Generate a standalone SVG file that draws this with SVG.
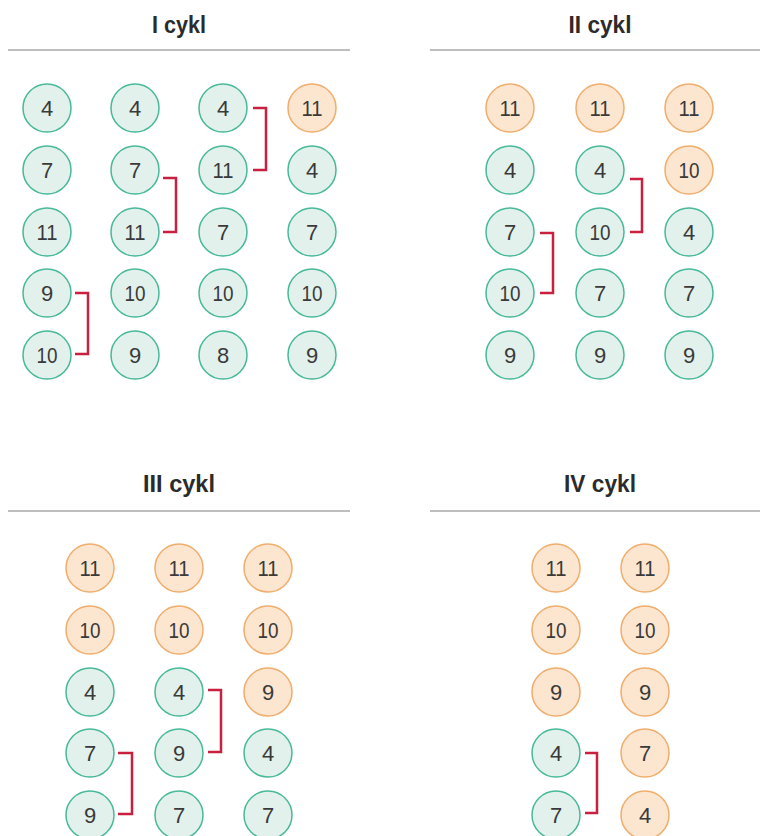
<svg xmlns="http://www.w3.org/2000/svg" width="760" height="836" viewBox="0 0 760 836">
<style>
.t{font-family:"Liberation Sans Narrow","Liberation Sans",sans-serif;font-weight:bold;font-size:23px;fill:#2b2b2b;text-anchor:middle}
.rule{stroke:#a8a8a8;stroke-width:1.5}
.g circle{fill:#e2f1eb;stroke:#48b999;stroke-width:1.5}
.o circle{fill:#fde6d0;stroke:#f0ad6c;stroke-width:1.5}
.n text{font-family:"Liberation Sans Narrow","Liberation Sans",sans-serif;font-size:22px;fill:#3a3a3a;text-anchor:middle;dominant-baseline:central}
.b{fill:none;stroke:#c8203e;stroke-width:2.5}
</style>
<rect width="760" height="836" fill="#fff"/>
<g id="titles">
<text class="t" x="179" y="33" textLength="54" lengthAdjust="spacingAndGlyphs">I cykl</text>
<line class="rule" x1="8" y1="50" x2="350" y2="50"/>
<text class="t" x="600" y="33" textLength="63" lengthAdjust="spacingAndGlyphs">II cykl</text>
<line class="rule" x1="430" y1="50" x2="760" y2="50"/>
<text class="t" x="179" y="492" textLength="72" lengthAdjust="spacingAndGlyphs">III cykl</text>
<line class="rule" x1="8" y1="511" x2="350" y2="511"/>
<text class="t" x="600" y="492" textLength="72" lengthAdjust="spacingAndGlyphs">IV cykl</text>
<line class="rule" x1="430" y1="511" x2="760" y2="511"/>
</g>
<!-- Panel I -->
<g id="p1c1" class="n">
<g class="g"><circle cx="47" cy="108" r="24"/><text x="47" y="108">4</text></g>
<g class="g"><circle cx="47" cy="170" r="24"/><text x="47" y="170">7</text></g>
<g class="g"><circle cx="47" cy="232" r="24"/><text x="47" y="232" textLength="21" lengthAdjust="spacingAndGlyphs">11</text></g>
<g class="g"><circle cx="47" cy="293" r="24"/><text x="47" y="293">9</text></g>
<g class="g"><circle cx="47" cy="355" r="24"/><text x="47" y="355" textLength="21" lengthAdjust="spacingAndGlyphs">10</text></g>
</g>
<g id="p1c2" class="n">
<g class="g"><circle cx="135" cy="108" r="24"/><text x="135" y="108">4</text></g>
<g class="g"><circle cx="135" cy="170" r="24"/><text x="135" y="170">7</text></g>
<g class="g"><circle cx="135" cy="232" r="24"/><text x="135" y="232" textLength="21" lengthAdjust="spacingAndGlyphs">11</text></g>
<g class="g"><circle cx="135" cy="293" r="24"/><text x="135" y="293" textLength="21" lengthAdjust="spacingAndGlyphs">10</text></g>
<g class="g"><circle cx="135" cy="355" r="24"/><text x="135" y="355">9</text></g>
</g>
<g id="p1c3" class="n">
<g class="g"><circle cx="223" cy="108" r="24"/><text x="223" y="108">4</text></g>
<g class="g"><circle cx="223" cy="170" r="24"/><text x="223" y="170" textLength="21" lengthAdjust="spacingAndGlyphs">11</text></g>
<g class="g"><circle cx="223" cy="232" r="24"/><text x="223" y="232">7</text></g>
<g class="g"><circle cx="223" cy="293" r="24"/><text x="223" y="293" textLength="21" lengthAdjust="spacingAndGlyphs">10</text></g>
<g class="g"><circle cx="223" cy="355" r="24"/><text x="223" y="355">8</text></g>
</g>
<g id="p1c4" class="n">
<g class="o"><circle cx="312" cy="108" r="24"/><text x="312" y="108" textLength="21" lengthAdjust="spacingAndGlyphs">11</text></g>
<g class="g"><circle cx="312" cy="170" r="24"/><text x="312" y="170">4</text></g>
<g class="g"><circle cx="312" cy="232" r="24"/><text x="312" y="232">7</text></g>
<g class="g"><circle cx="312" cy="293" r="24"/><text x="312" y="293" textLength="21" lengthAdjust="spacingAndGlyphs">10</text></g>
<g class="g"><circle cx="312" cy="355" r="24"/><text x="312" y="355">9</text></g>
</g>
<!-- Panel II -->
<g id="p2c1" class="n">
<g class="o"><circle cx="510" cy="108" r="24"/><text x="510" y="108" textLength="21" lengthAdjust="spacingAndGlyphs">11</text></g>
<g class="g"><circle cx="510" cy="170" r="24"/><text x="510" y="170">4</text></g>
<g class="g"><circle cx="510" cy="232" r="24"/><text x="510" y="232">7</text></g>
<g class="g"><circle cx="510" cy="293" r="24"/><text x="510" y="293" textLength="21" lengthAdjust="spacingAndGlyphs">10</text></g>
<g class="g"><circle cx="510" cy="355" r="24"/><text x="510" y="355">9</text></g>
</g>
<g id="p2c2" class="n">
<g class="o"><circle cx="600" cy="108" r="24"/><text x="600" y="108" textLength="21" lengthAdjust="spacingAndGlyphs">11</text></g>
<g class="g"><circle cx="600" cy="170" r="24"/><text x="600" y="170">4</text></g>
<g class="g"><circle cx="600" cy="232" r="24"/><text x="600" y="232" textLength="21" lengthAdjust="spacingAndGlyphs">10</text></g>
<g class="g"><circle cx="600" cy="293" r="24"/><text x="600" y="293">7</text></g>
<g class="g"><circle cx="600" cy="355" r="24"/><text x="600" y="355">9</text></g>
</g>
<g id="p2c3" class="n">
<g class="o"><circle cx="689" cy="108" r="24"/><text x="689" y="108" textLength="21" lengthAdjust="spacingAndGlyphs">11</text></g>
<g class="o"><circle cx="689" cy="170" r="24"/><text x="689" y="170" textLength="21" lengthAdjust="spacingAndGlyphs">10</text></g>
<g class="g"><circle cx="689" cy="232" r="24"/><text x="689" y="232">4</text></g>
<g class="g"><circle cx="689" cy="293" r="24"/><text x="689" y="293">7</text></g>
<g class="g"><circle cx="689" cy="355" r="24"/><text x="689" y="355">9</text></g>
</g>
<!-- Panel III -->
<g id="p3c1" class="n">
<g class="o"><circle cx="90" cy="568" r="24"/><text x="90" y="568" textLength="21" lengthAdjust="spacingAndGlyphs">11</text></g>
<g class="o"><circle cx="90" cy="630" r="24"/><text x="90" y="630" textLength="21" lengthAdjust="spacingAndGlyphs">10</text></g>
<g class="g"><circle cx="90" cy="692" r="24"/><text x="90" y="692">4</text></g>
<g class="g"><circle cx="90" cy="753" r="24"/><text x="90" y="753">7</text></g>
<g class="g"><circle cx="90" cy="815" r="24"/><text x="90" y="815">9</text></g>
</g>
<g id="p3c2" class="n">
<g class="o"><circle cx="179" cy="568" r="24"/><text x="179" y="568" textLength="21" lengthAdjust="spacingAndGlyphs">11</text></g>
<g class="o"><circle cx="179" cy="630" r="24"/><text x="179" y="630" textLength="21" lengthAdjust="spacingAndGlyphs">10</text></g>
<g class="g"><circle cx="179" cy="692" r="24"/><text x="179" y="692">4</text></g>
<g class="g"><circle cx="179" cy="753" r="24"/><text x="179" y="753">9</text></g>
<g class="g"><circle cx="179" cy="815" r="24"/><text x="179" y="815">7</text></g>
</g>
<g id="p3c3" class="n">
<g class="o"><circle cx="268" cy="568" r="24"/><text x="268" y="568" textLength="21" lengthAdjust="spacingAndGlyphs">11</text></g>
<g class="o"><circle cx="268" cy="630" r="24"/><text x="268" y="630" textLength="21" lengthAdjust="spacingAndGlyphs">10</text></g>
<g class="o"><circle cx="268" cy="692" r="24"/><text x="268" y="692">9</text></g>
<g class="g"><circle cx="268" cy="753" r="24"/><text x="268" y="753">4</text></g>
<g class="g"><circle cx="268" cy="815" r="24"/><text x="268" y="815">7</text></g>
</g>
<!-- Panel IV -->
<g id="p4c1" class="n">
<g class="o"><circle cx="556" cy="568" r="24"/><text x="556" y="568" textLength="21" lengthAdjust="spacingAndGlyphs">11</text></g>
<g class="o"><circle cx="556" cy="630" r="24"/><text x="556" y="630" textLength="21" lengthAdjust="spacingAndGlyphs">10</text></g>
<g class="o"><circle cx="556" cy="692" r="24"/><text x="556" y="692">9</text></g>
<g class="g"><circle cx="556" cy="753" r="24"/><text x="556" y="753">4</text></g>
<g class="g"><circle cx="556" cy="815" r="24"/><text x="556" y="815">7</text></g>
</g>
<g id="p4c2" class="n">
<g class="o"><circle cx="645" cy="568" r="24"/><text x="645" y="568" textLength="21" lengthAdjust="spacingAndGlyphs">11</text></g>
<g class="o"><circle cx="645" cy="630" r="24"/><text x="645" y="630" textLength="21" lengthAdjust="spacingAndGlyphs">10</text></g>
<g class="o"><circle cx="645" cy="692" r="24"/><text x="645" y="692">9</text></g>
<g class="o"><circle cx="645" cy="753" r="24"/><text x="645" y="753">7</text></g>
<g class="o"><circle cx="645" cy="815" r="24"/><text x="645" y="815">4</text></g>
</g>
<g id="connectors">
<path class="b" d="M75 293H88V354H75"/>
<path class="b" d="M163 178H176V232H163"/>
<path class="b" d="M253 108H266V170H253"/>
<path class="b" d="M540 233H553V293H540"/>
<path class="b" d="M630 179H642V232H630"/>
<path class="b" d="M118 753H132V814H118"/>
<path class="b" d="M208 690H221V752H208"/>
<path class="b" d="M585 753H597V813H585"/>
</g>
</svg>
